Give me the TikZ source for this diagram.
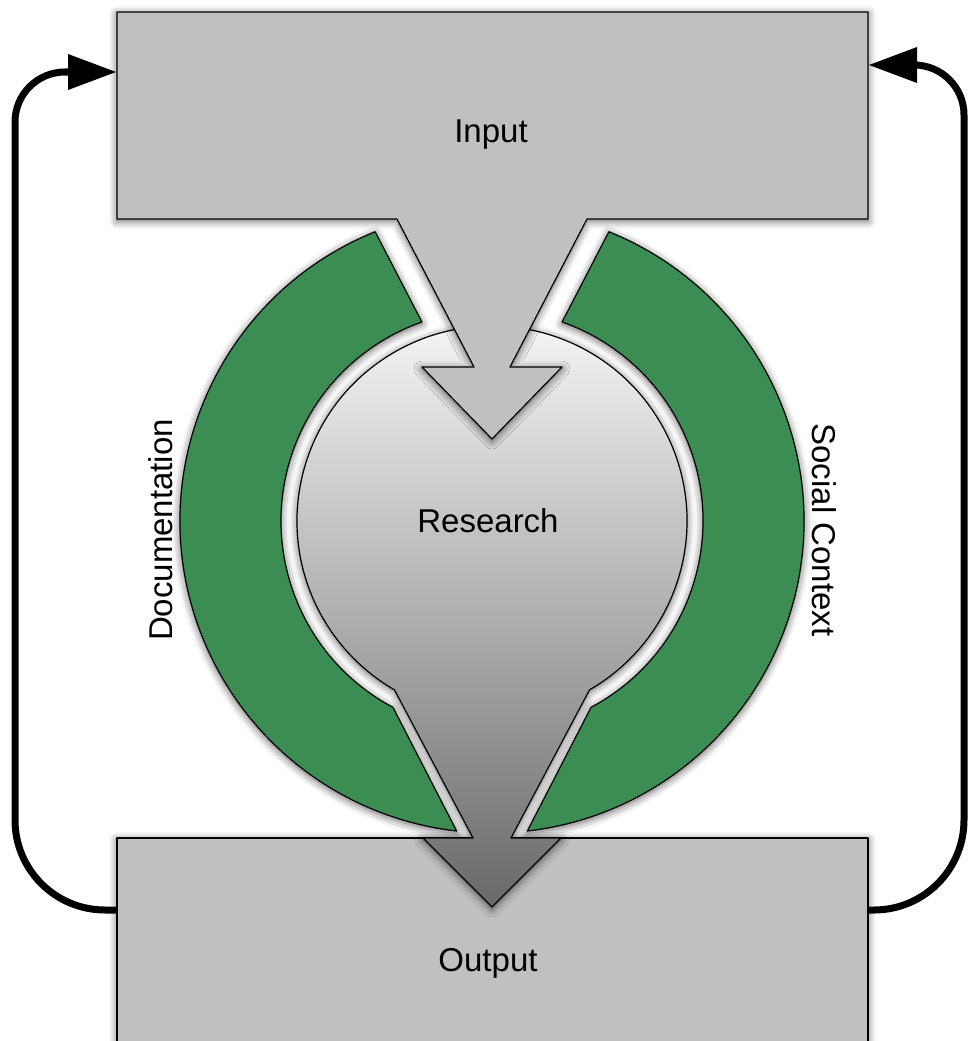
\documentclass[tikz,border=0pt]{standalone}
\usepackage{fontspec}
\setmainfont{Liberation Sans}
\usetikzlibrary{arrows.meta,shadows.blur}
\definecolor{boxgray}{RGB}{192,192,192}
\definecolor{ringgreen}{RGB}{60,141,83}
\definecolor{restop}{RGB}{250,250,250}
\definecolor{resbot}{RGB}{105,105,105}
\begin{document}
\begin{tikzpicture}[x=1pt,y=-1pt,
  shapeline/.style={draw=black, line width=1.2pt, line join=round},
  sh/.style={blur shadow={shadow xshift=0pt, shadow yshift=-2pt, shadow blur radius=8pt, shadow opacity=65}},
  loopline/.style={draw=black, line width=7pt, -{Triangle[length=48pt,width=36pt,fill=black,color=black,line width=0pt]}},
  lbl/.style={font=\fontsize{33}{40}\selectfont, inner sep=0pt, anchor=base}]
\useasboundingbox (0,0) rectangle (976,1041);
\coordinate (c) at (492,521);
\coordinate (outW) at (117,910);
\coordinate (inW) at (116,72);
\coordinate (outE) at (868,910);
\coordinate (inE) at (869,65);

% output box
\path[shapeline, fill=boxgray, sh] (117,838) rectangle (868,1070);

% green rings
\path[shapeline, fill=ringgreen, sh]
  ([shift={(-112:312)}]c) arc[start angle=-112, end angle=-263.5, radius=312]
  -- ([shift={(118:211)}]c) arc[start angle=118, end angle=250.6, radius=211] -- cycle;
\path[shapeline, fill=ringgreen, sh]
  ([shift={(-68:312)}]c) arc[start angle=-68, end angle=83.5, radius=312]
  -- ([shift={(62:211)}]c) arc[start angle=62, end angle=-70.6, radius=211] -- cycle;

% research shape
\path[shapeline, top color=restop, bottom color=resbot, sh]
  ([shift={(60:195)}]c) arc[start angle=60, end angle=-240, radius=195]
  -- (473,838) -- (423,838) -- (492,907) -- (561,838) -- (511,838) -- cycle;

% input shape
\path[shapeline, fill=boxgray, sh]
  (117,12) -- (868,12) -- (868,219) -- (587,219) -- (510,367) -- (562,367)
  -- (492,439) -- (422,367) -- (474,367) -- (397,219) -- (117,219) -- cycle;

% labels
\node[lbl] (input) at (491,142) {Input};
\node[lbl] (output) at (488,971) {Output};
\node[lbl] (research) at (488,532) {Research};
\node[lbl, rotate=90] (doc) at (172,530) {Documentation};
\node[lbl, rotate=-90] (soc) at (812,530) {Social Context};

% feedback loops
\draw[loopline] (outW) -- (105,910) arc[start angle=90, end angle=180, radius=90]
  -- (15,122) arc[start angle=180, end angle=270, radius=50] -- (inW);
\draw[loopline] (outE) -- (874,910) arc[start angle=90, end angle=0, radius=90]
  -- (964,115) arc[start angle=0, end angle=-90, radius=50] -- (inE);
\end{tikzpicture}
\end{document}
